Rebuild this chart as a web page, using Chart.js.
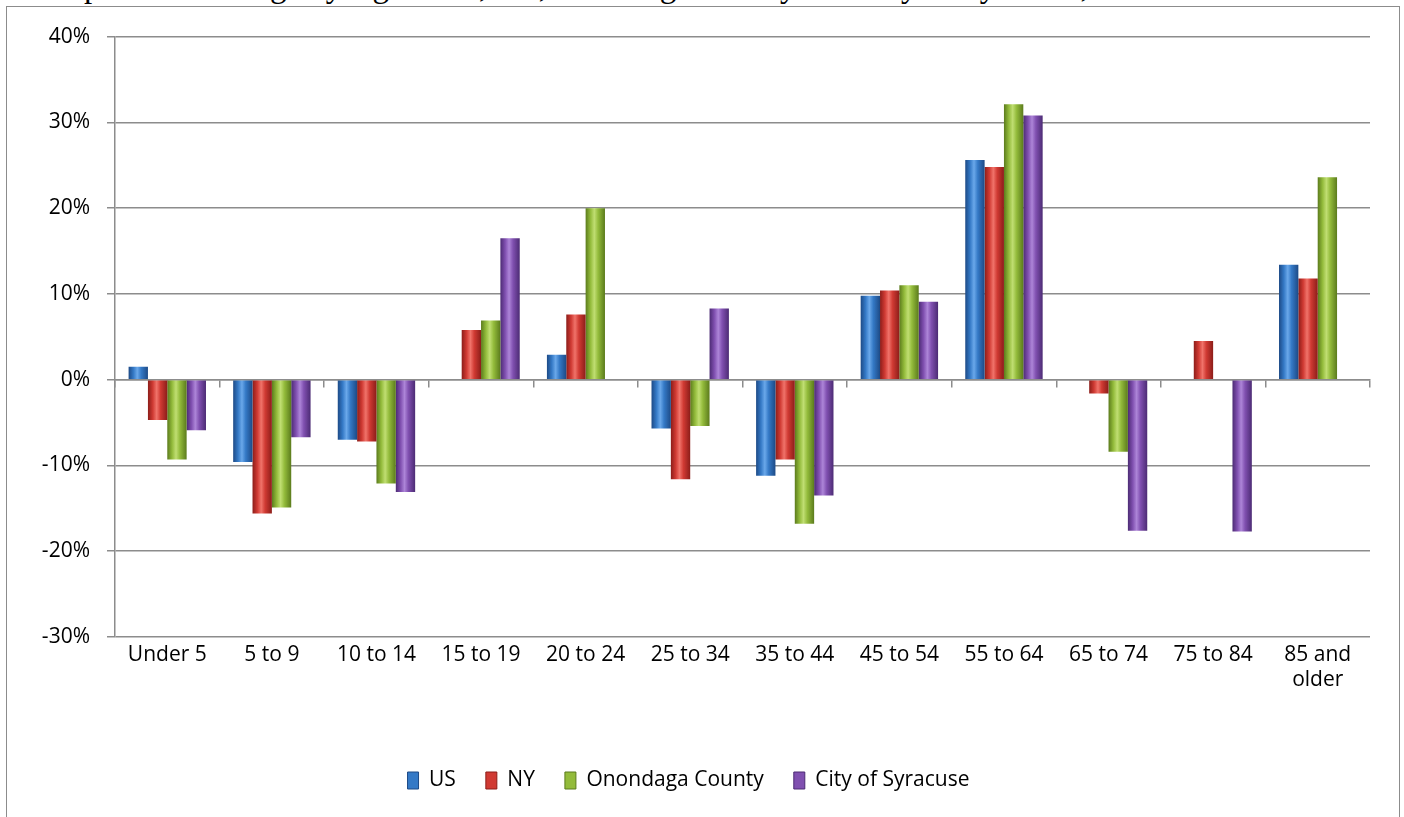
<!DOCTYPE html>
<html>
<head>
<meta charset="utf-8">
<script src="https://cdn.jsdelivr.net/npm/chart.js@4.4.1/dist/chart.umd.min.js"></script>
<style>
  html, body { margin: 0; padding: 0; background: #fff; width: 1404px; height: 817px; overflow: hidden; }
  #title { position: absolute; right: 164px; top: -30px; font-family: "Liberation Serif", "Times New Roman", serif; font-size: 33px; line-height: 33px; white-space: nowrap; color: #000; text-align: right; }
  #frame { position: absolute; left: 6px; top: 6px; width: 1394px; height: 830px; border: 1.5px solid #8c8c8c; border-bottom: none; box-sizing: border-box; background: transparent; }
  #wrap { position: absolute; left: 7px; top: 7px; width: 1392px; height: 810px; }
</style>
</head>
<body>
<div id="title">Figure 3: Population Change by Age – US, NY, Onondaga County and City of Syracuse, 2000-2010</div>
<div id="frame"></div>
<div id="wrap"><canvas id="c" width="1392" height="810"></canvas></div>
<script>
const categories = ['Under 5', '5 to 9', '10 to 14', '15 to 19', '20 to 24', '25 to 34', '35 to 44', '45 to 54', '55 to 64', '65 to 74', '75 to 84', ['85 and', 'older']];
const seriesNames = ['US', 'NY', 'Onondaga County', 'City of Syracuse'];
const usValues        = [1.5, -9.6, -7.0, null, 2.9, -5.7, -11.2, 9.8, 25.6, null, null, 13.4];
const nyValues        = [-4.7, -15.6, -7.2, 5.8, 7.6, -11.6, -9.3, 10.4, 24.8, -1.6, 4.5, 11.8];
const onondagaValues  = [-9.3, -14.9, -12.1, 6.9, 20.0, -5.4, -16.8, 11.0, 32.1, -8.4, null, 23.6];
const syracuseValues  = [-5.9, -6.7, -13.1, 16.5, null, 8.3, -13.5, 9.1, 30.8, -17.6, -17.7, null];
const yTicks = [-30, -20, -10, 0, 10, 20, 30, 40];

const palette = [
  { base: '#3479c6', dark: '#1d4a86', light: '#6aa8ea' },
  { base: '#d03a33', dark: '#8c1d19', light: '#f0736a' },
  { base: '#93bb3b', dark: '#5b7b1c', light: '#c0de72' },
  { base: '#8050b0', dark: '#4c2b74', light: '#ad85d8' }
];
const seriesValues = [usValues, nyValues, onondagaValues, syracuseValues];

const FONT = '"Open Sans", Lato, sans-serif';
const FS = 21;
const GRID = '#8c8c8c';

const gradientPlugin = {
  id: 'cylGradient',
  beforeDatasetsDraw(chart) {
    const ctx = chart.ctx;
    chart.data.datasets.forEach((ds, di) => {
      const meta = chart.getDatasetMeta(di);
      const p = palette[di];
      meta.data.forEach(el => {
        if (el.width == null || isNaN(el.x)) return;
        const x0 = el.x - el.width / 2, x1 = el.x + el.width / 2;
        const g = ctx.createLinearGradient(x0, 0, x1, 0);
        g.addColorStop(0, p.dark);
        g.addColorStop(0.25, p.base);
        g.addColorStop(0.45, p.light);
        g.addColorStop(0.65, p.base);
        g.addColorStop(1, p.dark);
        el.options.backgroundColor = g;
      });
    });
  }
};

new Chart(document.getElementById('c'), {
  type: 'bar',
  data: {
    labels: categories,
    datasets: seriesNames.map((name, i) => ({
      label: name,
      data: seriesValues[i],
      xAxisID: 'x',
      yAxisID: 'y',
      backgroundColor: (c) => palette[i].base,
      borderWidth: 0,
      categoryPercentage: 0.74,
      barPercentage: 1.0
    }))
  },
  options: {
    responsive: false,
    animation: false,
    events: [],
    layout: { padding: { left: 0, top: 29, right: 29, bottom: 16 } },
    plugins: {
      legend: {
        position: 'bottom',
        labels: {
          color: '#000',
          font: { family: FONT, size: FS },
          boxWidth: 11,
          boxHeight: 17,
          padding: 30,
          generateLabels(chart) {
            return chart.data.datasets.map((ds, i) => ({
              text: ds.label,
              fillStyle: palette[i].base,
              strokeStyle: palette[i].dark,
              lineWidth: 1,
              hidden: false,
              datasetIndex: i,
              fontColor: '#000'
            }));
          }
        }
      },
      tooltip: { enabled: false }
    },
    scales: {
      x: {
        type: 'category',
        position: 'bottom',
        offset: true,
        grid: { display: false, drawTicks: false },
        border: { display: false },
        ticks: { color: '#000', font: { family: FONT, size: FS, lineHeight: 1.2 }, padding: 5, maxRotation: 0, autoSkip: false },
        afterFit(s) { s.height = 103; }
      },
      x2: {
        type: 'category',
        position: { y: 0 },
        offset: true,
        grid: { display: true, offset: true, drawOnChartArea: false, drawTicks: true, tickLength: 7, color: GRID, lineWidth: 1.5 },
        border: { display: true, color: GRID, width: 1.5 },
        ticks: { display: false },
        afterFit(s) { s.height = 0; }
      },
      y: {
        min: -30,
        max: 40,
        afterBuildTicks(s) { s.ticks = yTicks.map(v => ({ value: v })); },
        grid: { color: GRID, lineWidth: 1.5, drawTicks: true, tickLength: 8 },
        border: { display: true, color: GRID, width: 1.5 },
        ticks: { color: '#000', font: { family: FONT, size: FS }, padding: 17, callback: v => v + '%' },
        afterFit(s) { s.width = 108; }
      }
    }
  },
  plugins: [gradientPlugin]
});
</script>
</body>
</html>
